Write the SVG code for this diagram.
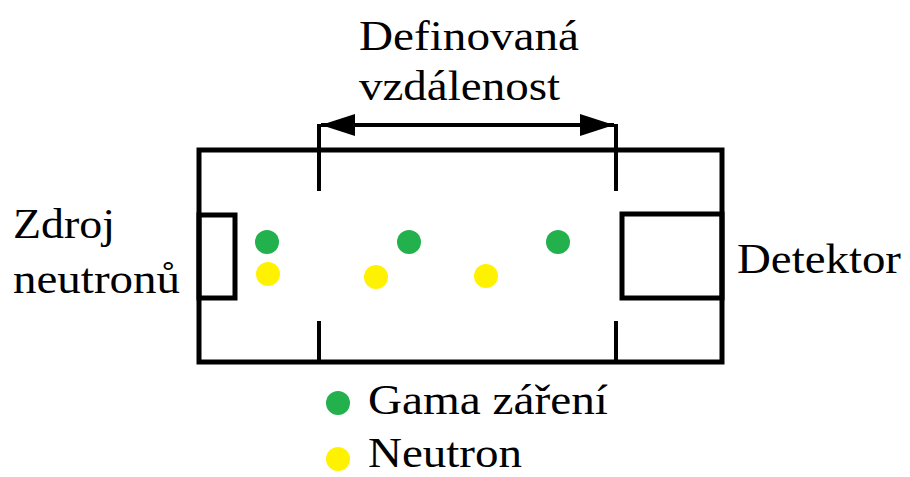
<svg xmlns="http://www.w3.org/2000/svg" width="910" height="477" viewBox="0 0 910 477">
<defs>
<style>
text{font-family:'Liberation Serif','Times New Roman',serif;font-size:42px;fill:#000}
.w{fill:none;stroke:#000;stroke-width:5;stroke-linecap:square}
.k{fill:none;stroke:#000;stroke-width:4}
.g{fill:#22b14c}
.y{fill:#fff200}
</style>
<marker id="ah" viewBox="0 0 34 22" refX="34" refY="11" markerWidth="34" markerHeight="22" markerUnits="userSpaceOnUse" orient="auto-start-reverse">
<path d="M0,0 L34,11 L0,22 Z" fill="#000"/>
</marker>
</defs>
<rect width="910" height="477" fill="#fff"/>
<g id="chamber">
<rect class="w" x="199" y="150" width="523" height="212"/>
<rect class="w" x="199" y="215" width="36" height="83"/>
<rect class="w" x="622" y="214" width="100" height="84"/>
<line class="k" x1="319" y1="124" x2="319" y2="191"/>
<line class="k" x1="319" y1="321" x2="319" y2="362"/>
<line class="k" x1="616" y1="124" x2="616" y2="191"/>
<line class="k" x1="616" y1="321" x2="616" y2="362"/>
</g>
<g id="connectors">
<line x1="321" y1="125" x2="614" y2="125" stroke="#000" stroke-width="4" marker-start="url(#ah)" marker-end="url(#ah)"/>
</g>
<g id="particles">
<circle class="g" cx="267" cy="242" r="12"/>
<circle class="y" cx="268" cy="274" r="12"/>
<circle class="g" cx="409" cy="242" r="12"/>
<circle class="y" cx="376" cy="277" r="12"/>
<circle class="y" cx="486" cy="276" r="12"/>
<circle class="g" cx="558" cy="242" r="12"/>
</g>
<g id="label-distance">
<text x="359" y="50" textLength="220" lengthAdjust="spacingAndGlyphs">Definovaná</text>
<text x="359" y="100" textLength="201" lengthAdjust="spacingAndGlyphs">vzdálenost</text>
</g>
<g id="label-source">
<text x="13" y="238" textLength="102" lengthAdjust="spacingAndGlyphs">Zdroj</text>
<text x="13" y="293" textLength="167" lengthAdjust="spacingAndGlyphs">neutronů</text>
</g>
<g id="label-detector">
<text x="737" y="273" textLength="164" lengthAdjust="spacingAndGlyphs">Detektor</text>
</g>
<g id="legend">
<circle class="g" cx="338" cy="403" r="12"/>
<text x="368" y="414" textLength="240" lengthAdjust="spacingAndGlyphs">Gama záření</text>
<circle class="y" cx="338" cy="459" r="12"/>
<text x="368" y="467" textLength="154" lengthAdjust="spacingAndGlyphs">Neutron</text>
</g>
</svg>
